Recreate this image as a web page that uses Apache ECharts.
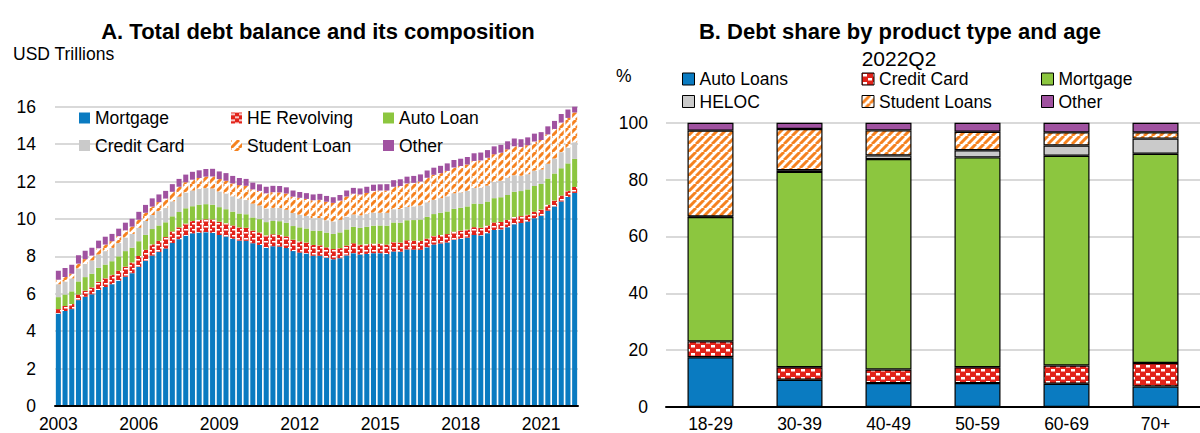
<!DOCTYPE html>
<html>
<head>
<meta charset="utf-8">
<title>Household debt</title>
<script src="https://cdn.jsdelivr.net/npm/echarts@6/dist/echarts.min.js"></script>
<style>
html, body { margin: 0; padding: 0; background: #fff; }
#chart { width: 1200px; height: 433px; }
</style>
</head>
<body>
<div id="chart"></div>
<script>
// panel A: quarterly, 2003Q1 - 2022Q2, USD trillions
var quarters = [];
for (var y = 2003; y <= 2022; y++) {
  for (var q = 1; q <= 4; q++) {
    if (y === 2022 && q > 2) break;
    quarters.push(y + 'Q' + q);
  }
}
var mortgage = [4.94,5.08,5.18,5.66, 5.84,5.97,6.21,6.36, 6.51,6.70,6.91,7.10, 7.44,7.76,8.04,8.23,
  8.42,8.71,8.92,9.10, 9.23,9.27,9.29,9.26, 9.14,9.06,8.94,8.84, 8.83,8.70,8.61,8.45,
  8.54,8.52,8.44,8.28, 8.20,8.15,8.03,8.03, 7.93,7.84,7.90,8.05, 8.17,8.10,8.13,8.17,
  8.17,8.12,8.26,8.25, 8.37,8.36,8.35,8.48, 8.63,8.69,8.74,8.88, 8.94,9.00,9.14,9.12,
  9.24,9.41,9.44,9.56, 9.71,9.78,9.86,10.04, 10.16,10.44,10.67,10.93, 11.18,11.39];
var heRevolving = [0.24,0.26,0.27,0.30, 0.33,0.37,0.43,0.47, 0.50,0.53,0.54,0.57, 0.58,0.59,0.60,0.60,
  0.61,0.62,0.63,0.65, 0.66,0.68,0.69,0.71, 0.71,0.71,0.71,0.71, 0.70,0.68,0.67,0.67,
  0.64,0.63,0.63,0.61, 0.60,0.59,0.58,0.56, 0.55,0.55,0.54,0.53, 0.53,0.52,0.52,0.51,
  0.51,0.51,0.50,0.49, 0.49,0.48,0.48,0.47, 0.46,0.45,0.45,0.44, 0.44,0.43,0.42,0.41,
  0.41,0.40,0.40,0.39, 0.39,0.37,0.36,0.35, 0.34,0.32,0.32,0.32, 0.32,0.32];
var autoLoan = [0.64,0.62,0.68,0.70, 0.72,0.73,0.75,0.73, 0.73,0.77,0.83,0.79, 0.79,0.80,0.82,0.82,
  0.79,0.81,0.82,0.82, 0.79,0.81,0.81,0.79, 0.78,0.75,0.74,0.74, 0.72,0.70,0.71,0.71,
  0.71,0.73,0.73,0.73, 0.75,0.75,0.76,0.78, 0.79,0.81,0.84,0.86, 0.88,0.90,0.93,0.96,
  0.97,1.01,1.05,1.06, 1.07,1.10,1.14,1.16, 1.17,1.19,1.21,1.22, 1.22,1.24,1.26,1.27,
  1.28,1.30,1.32,1.33, 1.35,1.34,1.36,1.37, 1.37,1.40,1.44,1.46, 1.47,1.50];
var creditCard = [0.69,0.69,0.69,0.70, 0.70,0.71,0.71,0.72, 0.71,0.71,0.73,0.74, 0.72,0.74,0.75,0.77,
  0.76,0.80,0.82,0.84, 0.84,0.85,0.86,0.87, 0.84,0.84,0.82,0.80, 0.76,0.74,0.73,0.73,
  0.70,0.70,0.69,0.70, 0.68,0.67,0.67,0.68, 0.66,0.67,0.67,0.68, 0.66,0.67,0.68,0.70,
  0.68,0.69,0.71,0.73, 0.71,0.73,0.75,0.78, 0.76,0.78,0.81,0.83, 0.82,0.83,0.84,0.87,
  0.85,0.87,0.88,0.93, 0.89,0.82,0.81,0.82, 0.77,0.79,0.80,0.86, 0.84,0.89];
var studentLoan = [0.24,0.24,0.25,0.25, 0.26,0.26,0.33,0.35, 0.36,0.37,0.38,0.39, 0.43,0.44,0.45,0.48,
  0.51,0.51,0.53,0.55, 0.58,0.58,0.61,0.64, 0.66,0.68,0.69,0.72, 0.76,0.76,0.78,0.81,
  0.84,0.84,0.87,0.87, 0.90,0.91,0.96,0.97, 0.99,0.99,1.03,1.08, 1.11,1.12,1.13,1.16,
  1.19,1.19,1.20,1.23, 1.26,1.26,1.28,1.31, 1.34,1.34,1.36,1.38, 1.41,1.41,1.44,1.46,
  1.49,1.48,1.50,1.51, 1.54,1.54,1.55,1.56, 1.58,1.57,1.58,1.58, 1.59,1.59];
var otherDebt = [0.48,0.49,0.48,0.45, 0.45,0.42,0.41,0.42, 0.39,0.40,0.41,0.42, 0.42,0.42,0.44,0.41,
  0.41,0.41,0.42,0.41, 0.42,0.41,0.41,0.41, 0.41,0.41,0.40,0.38, 0.37,0.36,0.35,0.35,
  0.34,0.34,0.33,0.33, 0.31,0.31,0.31,0.32, 0.31,0.30,0.30,0.32, 0.31,0.32,0.33,0.33,
  0.33,0.34,0.35,0.36, 0.36,0.37,0.38,0.39, 0.38,0.39,0.40,0.40, 0.39,0.40,0.41,0.42,
  0.41,0.42,0.42,0.43, 0.42,0.41,0.42,0.42, 0.42,0.43,0.43,0.46, 0.45,0.48];

// panel B: shares by age group, 2022Q2, percent
var ages = ['18-29', '30-39', '40-49', '50-59', '60-69', '70+'];
var shareAuto = [17.5, 9.6, 8.4, 8.4, 8.2, 7.2];
var shareCard = [5.6, 4.4, 4.8, 5.6, 6.4, 8.3];
var shareMortgage = [43.7, 68.7, 74.0, 73.8, 73.8, 73.6];
var shareHeloc = [0.2, 0.6, 1.3, 2.5, 3.6, 5.3];
var shareStudent = [30.2, 14.5, 8.8, 6.5, 4.6, 2.2];
var shareOther = [2.8, 2.2, 2.7, 3.2, 3.4, 3.4];

var FONT = "'Liberation Sans', Arial, sans-serif";
var BLUE = '#0a7bc1', RED = '#e2231a', GREEN = '#8cc63f', GREY = '#cacaca',
    ORANGE = '#f58220', PURPLE = '#a052a0';

function stripes() {
  var c = document.createElement('canvas');
  c.width = 8; c.height = 8;
  var g = c.getContext('2d');
  g.fillStyle = '#fff';
  g.fillRect(0, 0, 8, 8);
  g.strokeStyle = ORANGE;
  g.lineWidth = 3;
  g.beginPath();
  for (var k = -8; k <= 8; k += 8) {
    g.moveTo(k, 8);
    g.lineTo(k + 8, 0);
  }
  g.stroke();
  return { image: c, repeat: 'repeat' };
}
function dashes() {
  var c = document.createElement('canvas');
  c.width = 8; c.height = 6;
  var g = c.getContext('2d');
  g.fillStyle = RED;
  g.fillRect(0, 0, 8, 6);
  g.fillStyle = '#fff';
  g.fillRect(0, 1, 4, 1.5);
  g.fillRect(4, 4, 4, 1.5);
  return { image: c, repeat: 'repeat' };
}
function dots() {
  var c = document.createElement('canvas');
  c.width = 10; c.height = 8;
  var g = c.getContext('2d');
  g.fillStyle = RED;
  g.fillRect(0, 0, 10, 8);
  g.fillStyle = '#fff';
  g.fillRect(1, 1, 4, 2.5);
  g.fillRect(6, 5, 4, 2.5);
  return { image: c, repeat: 'repeat' };
}

function leftBar(name, data, color) {
  return {
    name: name, type: 'bar', stack: 'a', xAxisIndex: 0, yAxisIndex: 0,
    data: data, barCategoryGap: '25%',
    itemStyle: { color: color }
  };
}
function rightBar(name, data, color) {
  return {
    name: 'B ' + name, type: 'bar', stack: 'b', xAxisIndex: 1, yAxisIndex: 1,
    data: data, barWidth: 46,
    itemStyle: { color: color, borderColor: '#000', borderWidth: 1.2 }
  };
}

var labelStyle = { fontSize: 17.5, color: '#000', fontFamily: FONT };

function legendRow(names, left, top, step, size, border, strip) {
  return {
    data: names, left: left, top: top, width: step * 3 + 20, orient: 'horizontal', padding: 0,
    itemGap: 0, itemWidth: size, itemHeight: size, icon: 'rect',
    selectedMode: false,
    itemStyle: border ? { borderColor: '#000', borderWidth: 1 } : { borderWidth: 0 },
    formatter: strip ? function (n) { return n.replace(/^B /, ''); } : '{name}',
    textStyle: { fontSize: 17.5, color: '#000', fontFamily: FONT, lineHeight: 18,
      width: step - size - 5, overflow: 'none' }
  };
}

var chart = echarts.init(document.getElementById('chart'), null, { renderer: 'svg' });
chart.setOption({
  animation: false,
  textStyle: { fontFamily: FONT },
  title: [
    { text: 'A. Total debt balance and its composition', left: 318, top: 20, padding: 0,
      textAlign: 'center', textStyle: { fontSize: 22, fontWeight: 'bold', color: '#000', fontFamily: FONT } },
    { text: 'USD Trillions', left: 13, top: 45, padding: 0,
      textStyle: { fontSize: 17.5, fontWeight: 'normal', color: '#000', fontFamily: FONT } },
    { text: 'B. Debt share by product type and age', left: 900, top: 20, padding: 0,
      textAlign: 'center', textStyle: { fontSize: 22, fontWeight: 'bold', color: '#000', fontFamily: FONT } },
    { text: '2022Q2', left: 899, top: 49, padding: 0, textAlign: 'center',
      textStyle: { fontSize: 21, lineHeight: 19, fontWeight: 'normal', color: '#000', fontFamily: FONT } },
    { text: '%', left: 616, top: 67, padding: 0,
      textStyle: { fontSize: 17.5, fontWeight: 'normal', color: '#000', fontFamily: FONT } }
  ],
  legend: [
    legendRow(['Mortgage', 'HE Revolving', 'Auto Loan'], 79, 109, 152, 11, false, false),
    legendRow(['Credit Card', 'Student Loan', 'Other'], 79, 136.5, 152, 11, false, false),
    legendRow(['B Auto Loans', 'B Credit Card', 'B Mortgage'], 682, 70, 179, 12, true, true),
    legendRow(['B HELOC', 'B Student Loans', 'B Other'], 682, 92.5, 179, 12, true, true)
  ],
  grid: [
    { left: 55, right: 622, top: 106.7, bottom: 26.3 },
    { left: 666, width: 543, top: 122.7, bottom: 24.7 }
  ],
  xAxis: [
    { type: 'category', gridIndex: 0, data: quarters, z: 10,
      axisLine: { lineStyle: { color: '#000', width: 2 } },
      axisTick: { interval: 11, inside: true, length: 6, lineStyle: { color: '#000', width: 1.5 } },
      axisLabel: Object.assign({ interval: 11, margin: 9,
        formatter: function (v) { return v.slice(0, 4); } }, labelStyle) },
    { type: 'category', gridIndex: 1, data: ages, z: 10,
      axisLine: { lineStyle: { color: '#000', width: 2 } },
      axisTick: { inside: true, length: 6, lineStyle: { color: '#000', width: 1.5 } },
      axisLabel: Object.assign({ margin: 8 }, labelStyle) }
  ],
  yAxis: [
    { type: 'value', gridIndex: 0, min: 0, max: 16, interval: 2,
      axisLine: { show: false }, axisTick: { show: false },
      splitLine: { lineStyle: { color: '#cccccc', width: 1.5 } },
      axisLabel: Object.assign({ margin: 19 }, labelStyle) },
    { type: 'value', gridIndex: 1, min: 0, max: 100, interval: 20,
      axisLine: { show: false }, axisTick: { show: false },
      splitLine: { lineStyle: { color: '#cccccc', width: 1.5 } },
      axisLabel: Object.assign({ margin: 18 }, labelStyle) }
  ],
  series: [
    leftBar('Mortgage', mortgage, BLUE),
    leftBar('HE Revolving', heRevolving, dashes()),
    leftBar('Auto Loan', autoLoan, GREEN),
    leftBar('Credit Card', creditCard, GREY),
    leftBar('Student Loan', studentLoan, stripes()),
    leftBar('Other', otherDebt, PURPLE),
    rightBar('Auto Loans', shareAuto, BLUE),
    rightBar('Credit Card', shareCard, dots()),
    rightBar('Mortgage', shareMortgage, GREEN),
    rightBar('HELOC', shareHeloc, GREY),
    rightBar('Student Loans', shareStudent, stripes()),
    rightBar('Other', shareOther, PURPLE)
  ]
});
</script>
</body>
</html>
